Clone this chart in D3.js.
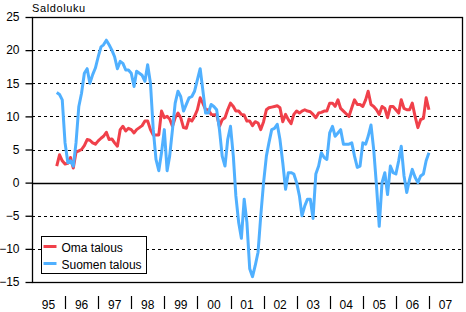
<!DOCTYPE html>
<html>
<head>
<meta charset="utf-8">
<script src="https://cdn.jsdelivr.net/npm/d3@7"></script>
<style>
  body { margin: 0; background: #fff; }
  svg { display: block; font-family: "Liberation Sans", Arial, sans-serif; }
</style>
</head>
<body>
<div class="chart"></div>
<script>
// monthly balance figures, first value = October 1995
const firstYear = 1995, firstMonth = 9;
const omaTalous = [
  2.5, 4.2, 3.3,
  2.8, 2.9, 3.8, 2.2, 4.6, 4.8, 5, 5.6, 6.5, 6.4, 6, 5.8,
  6.3, 6.7, 7, 7.6, 6.5, 6.6, 6, 5.5, 8, 8.5, 7.8, 8.2,
  8, 7.5, 8, 8.3, 8.6, 9.3, 9.3, 8, 7.2, 7.2, 7.2, 10.8,
  9.8, 10, 9.6, 8.5, 9.8, 10.5, 9.8, 8.3, 8.2, 9.6, 9.3, 10,
  11, 12.8, 12, 11, 11, 10.3, 10.2, 10.3, 8.5, 9.5, 9.8, 11,
  12, 11.5, 10.8, 10.8, 10.3, 10.2, 9.3, 9.3, 8.6, 9.2, 9, 8,
  9.2, 11, 11.3, 11.4, 11.5, 11.6, 11.3, 9.2, 10.3, 9.5, 8.9, 10.3,
  10.8, 10.5, 10.8, 11, 10.8, 10.7, 10.3, 9.8, 10.5, 10.6, 10.8, 10.8,
  12, 12, 11.5, 12.5, 11.2, 10.8, 10.4, 10, 11.3, 12.5, 11.8, 11.8,
  11.5, 12.5, 13.8, 11.8, 11.5, 11, 10.3, 11.5, 11.2, 9.8, 11.5, 11.5,
  11, 10.5, 12.5, 11.2, 11, 11, 12, 10, 8.3, 9.5, 9.7, 12.8,
  11
];
const suomenTalous = [
  13.6, 13.3, 12.5,
  6, 3, 3.3, 2.5, 6, 11.5, 13.5, 16.5, 17.2, 15, 16.3, 17.3,
  19, 20.5, 20.8, 21.5, 20.8, 20, 19, 17.2, 18.3, 18, 17, 17,
  16.5, 14.5, 16.8, 16.5, 16.2, 15.3, 17.8, 15, 8, 3.5, 1.8, 4.5,
  8, 1.8, 4, 8, 12, 13.8, 13, 10.8, 11.8, 12.8, 13, 13.8,
  15.5, 17.2, 14, 10.5, 10.5, 11.8, 11.5, 11, 8, 4, 2.5, 6.5,
  8.5, 4, -2, -6, -8.4, -2.5, -6, -13, -14.2, -12.5, -10.5, -5,
  0, 4, 6, 8, 8.2, 8.8, 6.5, 3, -1, 1.5, 1.5, 1.3,
  0, -2, -5, -3.5, -2.5, -2.5, -5.4, 1.3, 2.5, 4.5, 3.8, 3.5,
  7.5, 8.5, 7, 7.5, 8, 5.8, 5.8, 5.8, 6, 4, 2.3, 2.5,
  6, 5.8, 7, 8.7, 5, -0.5, -6.6, 0, 1.5, -1.8, 2.5, 1.5,
  1.3, 3.3, 5.5, 1, -1.5, 0.5, 2, 0.8, 0, 1, 1.3, 3.3,
  4.5
];
const yearLabels = ["95","96","97","98","99","00","01","02","03","04","05","06","07"];
const yTicks = [-15, -10, -5, 0, 5, 10, 15, 20, 25];
const seriesNames = ["Oma talous", "Suomen talous"];
const seriesColors = ["#f0404a", "#50b0ff"];

const W = 466, H = 312;
const M = {top: 17, right: 4, bottom: 30, left: 32};

const svg = d3.select(".chart").append("svg")
  .attr("width", W).attr("height", H);

const x = d3.scaleTime()
  .domain([new Date(1995, 0, 1), new Date(2008, 0, 1)])
  .range([M.left, W - M.right]);
const y = d3.scaleLinear()
  .domain([-15, 25])
  .range([H - M.bottom, M.top]);

const dateOf = i => new Date(firstYear, firstMonth + i, 1);

// dashed grid
svg.append("g").selectAll("line")
  .data(yTicks.filter(v => v != 0 && v != 25 && v != -15)).enter()
  .append("line")
  .attr("x1", M.left).attr("x2", W - M.right)
  .attr("y1", d => Math.round(y(d)) + 0.5).attr("y2", d => Math.round(y(d)) + 0.5)
  .attr("stroke", "#000").attr("stroke-dasharray", "3,3");

// zero line
svg.append("line")
  .attr("x1", M.left).attr("x2", W - M.right)
  .attr("y1", Math.round(y(0)) + 0.5).attr("y2", Math.round(y(0)) + 0.5)
  .attr("stroke", "#000").attr("stroke-width", 1.3);

// frame
svg.append("rect")
  .attr("x", M.left + 0.5).attr("y", M.top + 0.5)
  .attr("width", W - M.right - M.left).attr("height", H - M.bottom - M.top)
  .attr("fill", "none").attr("stroke", "#000").attr("stroke-width", 1.3);

// y axis
const yAxis = d3.axisLeft(y).tickValues(yTicks).tickSize(7).tickPadding(6);
const yg = svg.append("g")
  .attr("transform", "translate(" + (M.left + 0.5) + ",0)")
  .call(yAxis);
yg.select(".domain").remove();
yg.selectAll(".tick line").attr("stroke", "#000").attr("stroke-width", 1.3);
yg.selectAll(".tick text")
  .style("font-size", "12px").attr("fill", "#000");

// x labels and separators
const xg = svg.append("g");
xg.selectAll("text")
  .data(yearLabels).enter()
  .append("text")
  .attr("x", (d, i) => (x(new Date(1995 + i, 0, 1)) + x(new Date(1996 + i, 0, 1))) / 2)
  .attr("y", 309)
  .attr("text-anchor", "middle")
  .style("font-size", "12px")
  .text(d => d);
xg.selectAll("line")
  .data(yearLabels.slice(1)).enter()
  .append("line")
  .attr("x1", (d, i) => Math.round(x(new Date(1996 + i, 0, 1))) + 0.5)
  .attr("x2", (d, i) => Math.round(x(new Date(1996 + i, 0, 1))) + 0.5)
  .attr("y1", 296).attr("y2", 309)
  .attr("stroke", "#000").attr("stroke-width", 1.2);

// title
svg.append("text")
  .attr("x", 32).attr("y", 12)
  .style("font-size", "11px")
  .style("letter-spacing", "0.6px")
  .text("Saldoluku");

// lines
const line = d3.line()
  .x((d, i) => x(dateOf(i)))
  .y(d => y(d));

[omaTalous, suomenTalous].forEach((s, k) => {
  svg.append("path")
    .datum(s)
    .attr("fill", "none")
    .attr("stroke", seriesColors[k])
    .attr("stroke-width", 3)
    .attr("stroke-linejoin", "round")
    .attr("d", line);
});

// legend
const lg = svg.append("g").attr("transform", "translate(41.5,236.5)");
lg.append("rect")
  .attr("width", 105).attr("height", 37)
  .attr("fill", "#fff").attr("stroke", "#000");
seriesNames.forEach((n, k) => {
  lg.append("line")
    .attr("x1", 2).attr("x2", 15)
    .attr("y1", 10 + k * 17).attr("y2", 10 + k * 17)
    .attr("stroke", seriesColors[k]).attr("stroke-width", 3);
  lg.append("text")
    .attr("x", 20).attr("y", 15 + k * 17)
    .style("font-size", "12px")
    .text(n);
});
</script>
</body>
</html>
